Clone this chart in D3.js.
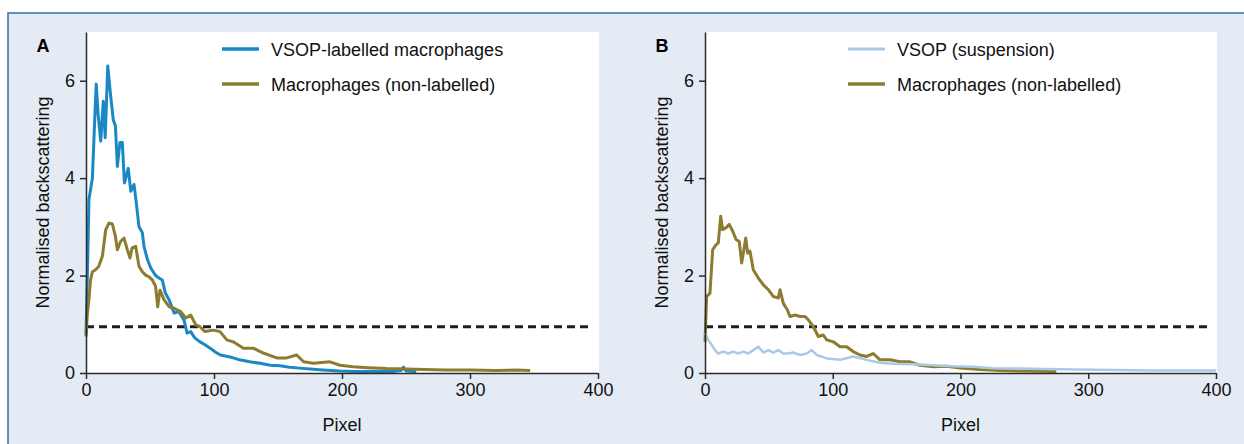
<!DOCTYPE html>
<html>
<head>
<meta charset="utf-8">
<script src="https://cdn.jsdelivr.net/npm/d3@7"></script>
<style>
  html, body { margin: 0; padding: 0; background: #fff; }
  svg { display: block; font-family: "Liberation Sans", Arial, sans-serif; }
</style>
</head>
<body>
<div id="chart"></div>
<script>
// values: [pixel, normalised backscattering]
const vsopLabelled = [[0,0.8],[1.5,2.5],[2.3,3.56],[5,4.0],[6.5,5.0],[8,5.93],[9.5,5.3],[11.5,4.76],[13.5,5.58],[15,4.83],[17,6.3],[19.3,5.68],[21.3,5.2],[23,5.07],[24.5,4.24],[26.5,4.73],[28.4,4.73],[30,3.9],[33,4.2],[35,3.73],[37.5,3.87],[39,3.56],[41.4,3.0],[44,2.88],[45.3,2.6],[48,2.33],[50.5,2.16],[54.4,2.0],[57,1.95],[59.6,1.91],[62,1.64],[65,1.5],[68.8,1.23],[72.6,1.26],[76.5,1.09],[79,0.82],[81.8,0.85],[85,0.72],[89,0.64],[93,0.58],[97,0.51],[101,0.43],[105,0.37],[112.5,0.33],[120,0.27],[128,0.23],[136,0.2],[144,0.16],[151.5,0.15],[159,0.12],[167,0.1],[175,0.08],[185,0.06],[198,0.04],[210,0.03],[225,0.03],[240,0.03],[246,0.05],[248,0.12],[250,0.04],[258,0.03]];

const macrophagesA = [[0,0.75],[1,1.2],[2.3,1.5],[3.5,1.9],[5,2.08],[7.5,2.12],[10,2.19],[12.8,2.4],[15.4,2.94],[18,3.08],[20.6,3.06],[23,2.8],[24.5,2.53],[27,2.7],[29.7,2.77],[32.3,2.53],[34.4,2.36],[36,2.57],[38.8,2.6],[41.4,2.19],[44,2.08],[46.6,2.01],[49,1.98],[51.8,1.91],[54.4,1.78],[56,1.36],[57.8,1.7],[61,1.5],[65,1.36],[68.8,1.33],[74,1.26],[78,1.13],[81.8,1.19],[85.7,0.99],[89,0.95],[93,0.85],[99.5,0.88],[104.7,0.85],[110,0.68],[115,0.64],[123,0.51],[130.7,0.51],[138.5,0.41],[149,0.31],[156.8,0.31],[164.6,0.37],[170,0.23],[177.6,0.2],[190.6,0.23],[198.4,0.16],[208.8,0.13],[220,0.11],[235,0.09],[250,0.08],[265,0.07],[280,0.06],[300,0.06],[320,0.05],[335,0.06],[347,0.05]];

const vsopSuspension = [[0,0.82],[2.6,0.68],[5.2,0.58],[7.8,0.47],[10.4,0.4],[14.3,0.44],[18.2,0.4],[22.2,0.44],[26.1,0.4],[30,0.44],[33.9,0.4],[37.8,0.47],[41.7,0.54],[45.7,0.42],[49.6,0.47],[53.5,0.42],[57.4,0.47],[61.3,0.4],[65.2,0.4],[69.1,0.42],[74.4,0.37],[79.6,0.4],[83.5,0.47],[87.4,0.37],[95.3,0.3],[105.7,0.27],[116,0.34],[126.5,0.27],[137,0.21],[147.6,0.19],[163.3,0.18],[178.7,0.16],[194.4,0.14],[210,0.13],[225.7,0.1],[245,0.09],[265,0.08],[290,0.07],[320,0.06],[350,0.05],[380,0.05],[400,0.05]];

const macrophagesB = [[0,0.64],[1.3,1.57],[3.9,1.64],[6,2.53],[8.6,2.63],[10.4,2.67],[12.3,3.22],[13.8,2.94],[16.4,2.98],[19,3.05],[21.7,2.91],[24.3,2.74],[26.8,2.7],[28.7,2.26],[30,2.46],[31.9,2.77],[33.4,2.46],[35.2,2.5],[37.8,2.12],[41.7,1.95],[45.7,1.81],[49.6,1.71],[53.5,1.57],[57.4,1.54],[58.7,1.71],[61.3,1.43],[64.4,1.3],[66.5,1.16],[70.5,1.19],[74.4,1.16],[78.3,1.16],[80.9,1.09],[84.8,0.95],[88.7,0.75],[92.6,0.78],[95.3,0.68],[100.5,0.64],[105.7,0.54],[110.9,0.54],[116,0.44],[121.3,0.37],[126.5,0.34],[131.7,0.4],[137,0.27],[144.8,0.27],[152.6,0.23],[160.5,0.23],[168.3,0.16],[178.7,0.13],[189,0.14],[199.6,0.1],[215,0.07],[231,0.05],[250,0.04],[275,0.03]];

const threshold = [[0, 0.95], [393, 0.95]];
const xTicks = [0, 100, 200, 300, 400];
const yTicks = [0, 2, 4, 6];

const blue = "#1b88c6", olive = "#8d7b30", lightBlue = "#a9c9ea";

const panels = [
  {label: "A", left: 86, right: 598,
   series: [
     {name: "VSOP-labelled macrophages", data: vsopLabelled, color: blue, w: 3},
     {name: "Macrophages (non-labelled)", data: macrophagesA, color: olive, w: 3}
   ],
   legendX: 222},
  {label: "B", left: 705, right: 1216,
   series: [
     {name: "Macrophages (non-labelled)", data: macrophagesB, color: olive, w: 3},
     {name: "VSOP (suspension)", data: vsopSuspension, color: lightBlue, w: 2.5},
   ],
   legend: [
     {name: "VSOP (suspension)", color: lightBlue, w: 2.5},
     {name: "Macrophages (non-labelled)", color: olive, w: 3}
   ],
   legendX: 848}
];

const width = 1244, height = 444;
const plotTop = 32, plotBottom = 373;

const svg = d3.select("#chart").append("svg")
  .attr("width", width)
  .attr("height", height);

// frame
svg.append("rect")
  .attr("x", 8).attr("y", 13)
  .attr("width", width).attr("height", height)
  .attr("fill", "#e4ebf4")
  .attr("stroke", "#3a6caa")
  .attr("stroke-width", 1.5);

const y = d3.scaleLinear().domain([0, 7]).range([plotBottom, plotTop]);

panels.forEach(p => {
  const x = d3.scaleLinear().domain([0, 400]).range([p.left, p.right]);
  const g = svg.append("g");

  g.append("rect")
    .attr("x", p.left).attr("y", plotTop)
    .attr("width", p.right - p.left + 1).attr("height", plotBottom - plotTop)
    .attr("fill", "#fff");

  const line = d3.line().x(d => x(d[0])).y(d => y(d[1]));

  g.append("path")
    .attr("d", line(threshold))
    .attr("fill", "none")
    .attr("stroke", "#1c1c2a")
    .attr("stroke-width", 3)
    .attr("stroke-dasharray", "8,5");

  p.series.forEach(s => {
    g.append("path")
      .attr("d", line(s.data))
      .attr("fill", "none")
      .attr("stroke", s.color)
      .attr("stroke-width", s.w)
      .attr("stroke-linejoin", "round");
  });

  // axes
  const xAxis = g.append("g")
    .attr("transform", `translate(0,${plotBottom})`)
    .call(d3.axisBottom(x).tickValues(xTicks).tickFormat(d3.format("d"))
      .tickSize(6).tickSizeOuter(0).tickPadding(4));
  const yAxis = g.append("g")
    .attr("transform", `translate(${p.left},0)`)
    .call(d3.axisLeft(y).tickValues(yTicks).tickFormat(d3.format("d"))
      .tickSize(6).tickSizeOuter(0).tickPadding(5));
  [xAxis, yAxis].forEach(a => {
    a.selectAll("path, line").attr("stroke", "#2a2a2a").attr("stroke-width", 1.5);
    a.selectAll("text")
      .attr("fill", "#111")
      .style("font-size", "18px")
      .style("font-family", "'Liberation Sans', Arial, sans-serif");
  });

  // titles
  g.append("text")
    .attr("x", (p.left + p.right) / 2)
    .attr("y", 431)
    .attr("text-anchor", "middle")
    .attr("fill", "#111")
    .style("font-size", "18px")
    .text("Pixel");

  g.append("text")
    .attr("transform", `translate(${p.left - 37},${(plotTop + plotBottom) / 2}) rotate(-90)`)
    .attr("text-anchor", "middle")
    .attr("fill", "#111")
    .style("font-size", "18px")
    .text("Normalised backscattering");

  g.append("text")
    .attr("x", p.left - 43)
    .attr("y", 52)
    .attr("text-anchor", "middle")
    .attr("fill", "#000")
    .style("font-size", "18px")
    .style("font-weight", "bold")
    .style("font-family", "'Liberation Sans Narrow', 'Liberation Sans', Arial, sans-serif")
    .text(p.label);

  // legend
  const items = p.legend || p.series;
  items.forEach((s, i) => {
    const ly = 49 + i * 35;
    g.append("line")
      .attr("x1", p.legendX).attr("x2", p.legendX + 37)
      .attr("y1", ly).attr("y2", ly)
      .attr("stroke", s.color)
      .attr("stroke-width", s.w + 0.5);
    g.append("text")
      .attr("x", p.legendX + 49)
      .attr("y", ly + 6.5)
      .attr("fill", "#111")
      .style("font-size", "18px")
      .text(s.name);
  });
});
</script>
</body>
</html>
